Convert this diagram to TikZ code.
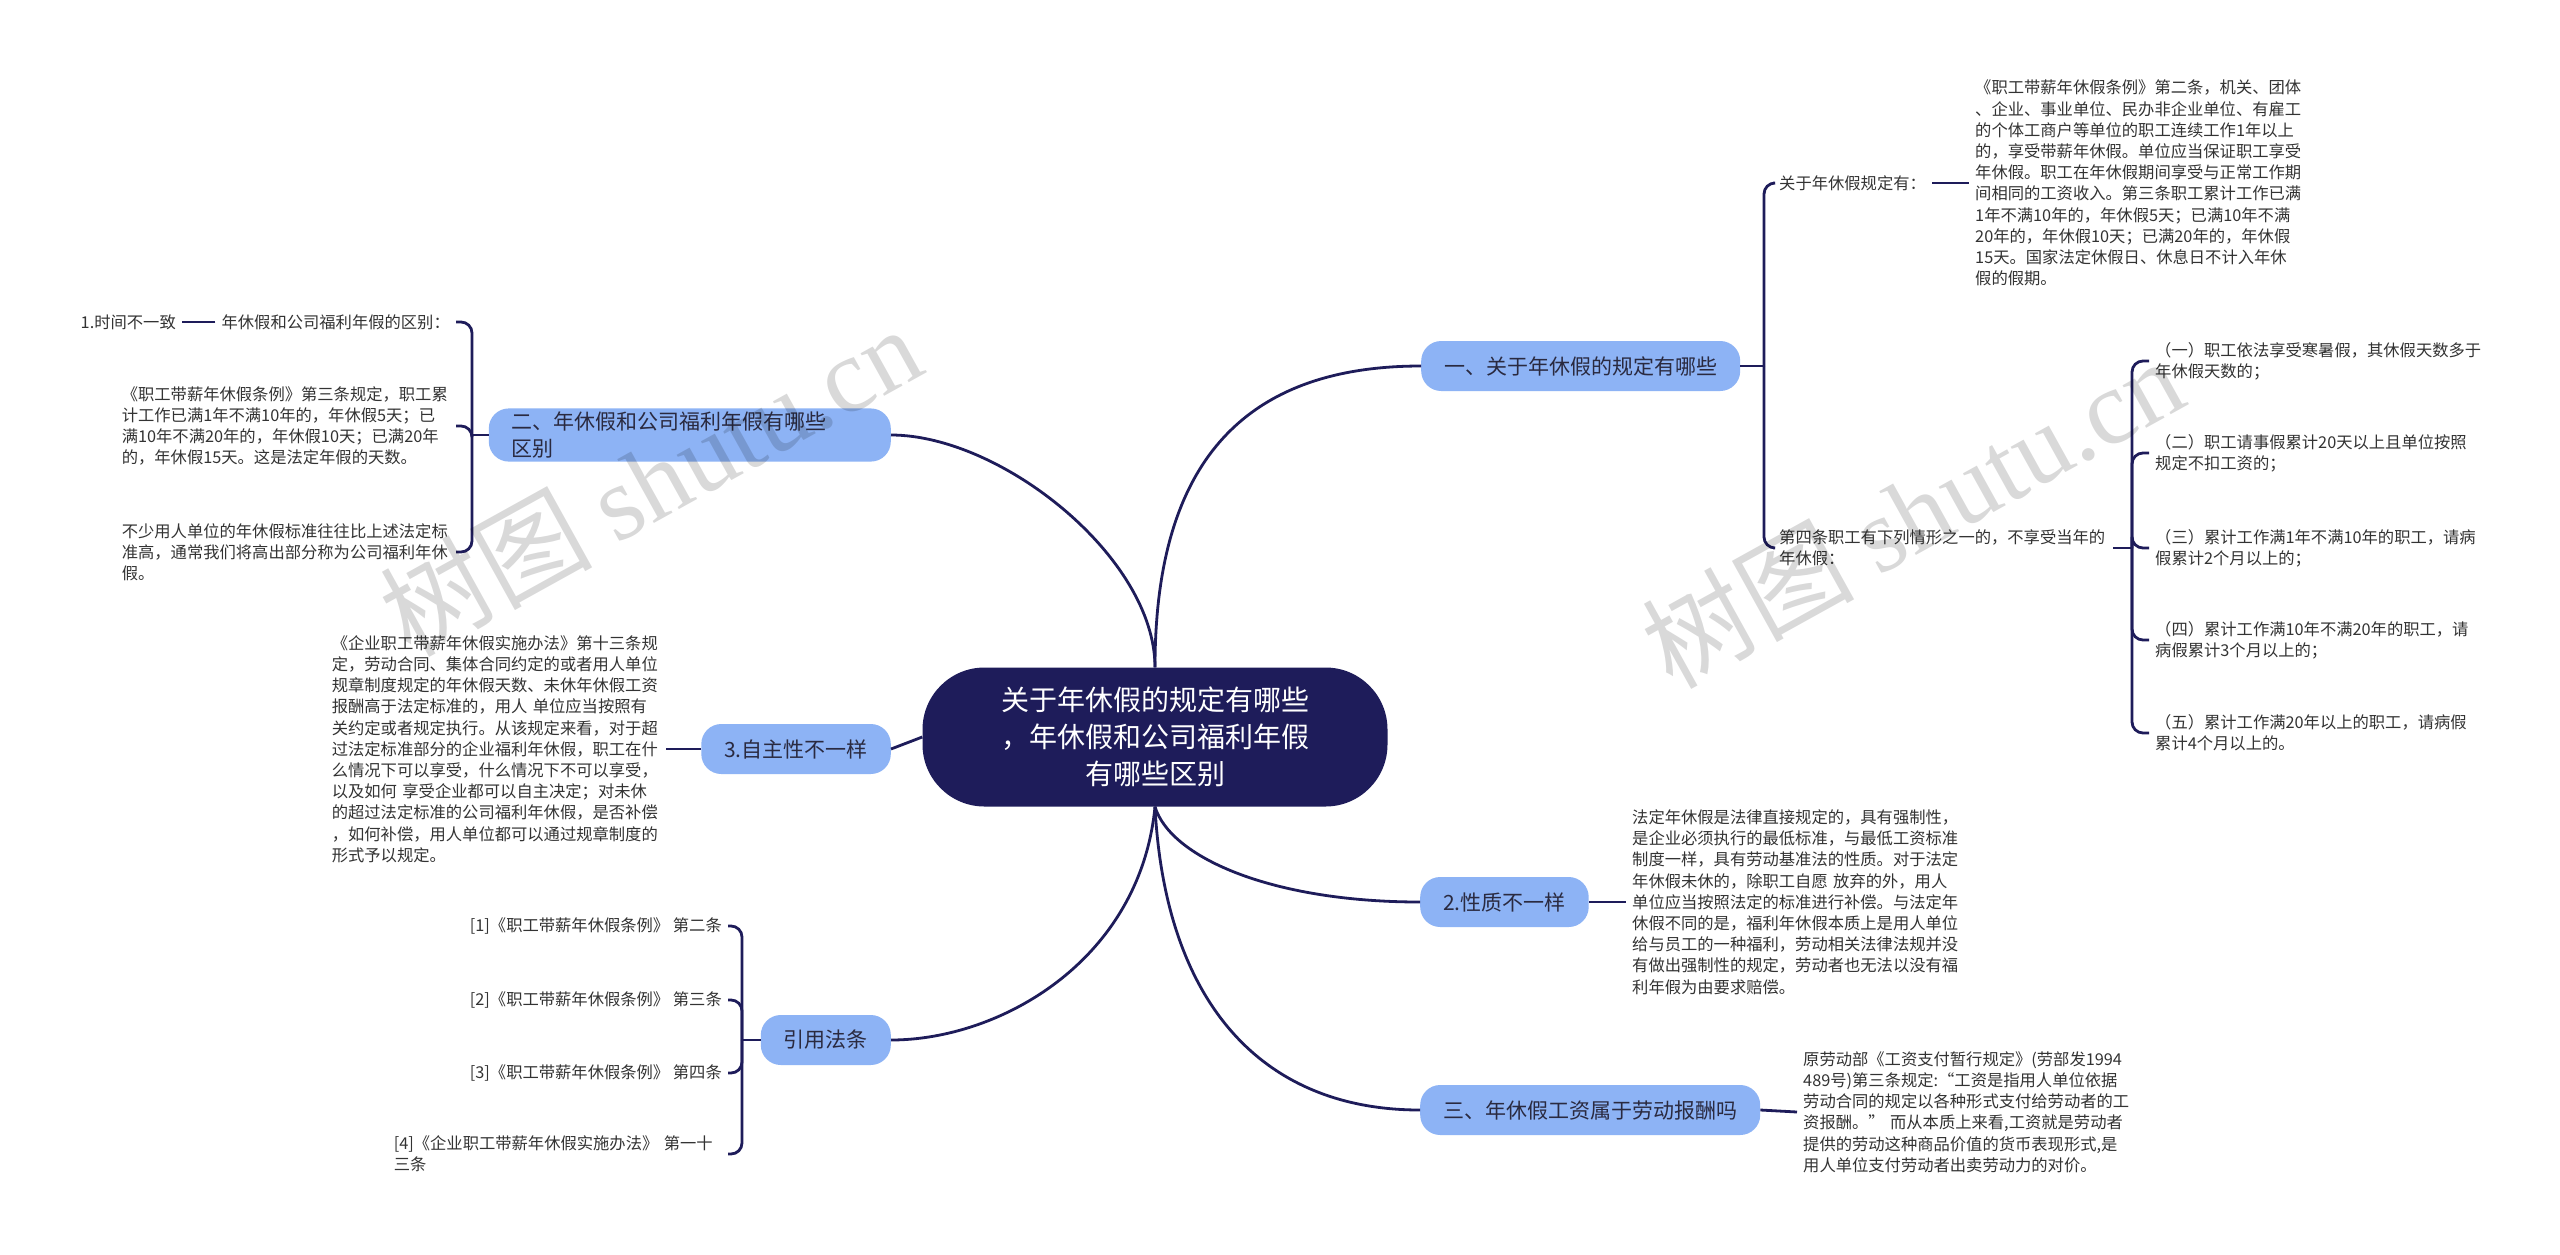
\documentclass[tikz,border=0pt]{standalone}
\usepackage{fontspec}
\usepackage{xcolor}
\usepackage{tikz}
\setmainfont{Noto Sans CJK SC}
\newfontfamily\wmfont{Liberation Serif}
\definecolor{rootcolor}{HTML}{1E1C5A}
\definecolor{branchcolor}{HTML}{8DB3F5}
\definecolor{branchtext}{HTML}{2A2A40}
\definecolor{textgray}{HTML}{333333}

\begin{document}
\begin{tikzpicture}[x=1pt, y=-1pt,
    root/.style={fill=rootcolor, text=white, rounded corners=62pt, minimum width=465pt, minimum height=139pt, align=center, font=\fontsize{28}{37}\selectfont},
    branch/.style={fill=branchcolor, text=branchtext, rounded corners=20pt, minimum height=50pt, inner xsep=23pt, font=\fontsize{21}{27}\selectfont},
    leaf/.style={text=textgray, inner xsep=6pt, inner ysep=2pt, align=left, font=\fontsize{16.3}{21.2}\selectfont},
    para/.style={leaf, text width=328pt},
    link/.style={draw=rootcolor, line width=2.8pt},
    brace/.style={link, rounded corners=11pt},
    watermark/.style={rotate=29, text=black, opacity=0.15, font=\fontsize{106}{106}\selectfont}]
    \fill[white] (0,0) rectangle (2560,1254);
    \useasboundingbox (0,0) rectangle (2560,1254);

    \node[root] (root) at (1155,737) {关于年休假的规定有哪些\\，年休假和公司福利年假\\有哪些区别};

    \node[branch, anchor=west] (b1) at (1421,366) {一、关于年休假的规定有哪些};
    \node[branch, anchor=east, text width=356pt, align=left] (b2) at (891,435) {二、年休假和公司福利年假有哪些\\区别};
    \node[branch, anchor=east] (b3) at (891,749) {3.自主性不一样};
    \node[branch, anchor=west] (b4) at (1420,902) {2.性质不一样};
    \node[branch, anchor=east] (b5) at (891,1040) {引用法条};
    \node[branch, anchor=west] (b6) at (1420,1110) {三、年休假工资属于劳动报酬吗};

    \draw[link] (root.north) .. controls +(0,-190) and +(-190,0) .. (b1.west);
    \draw[link] (root.north) .. controls +(0,-110) and +(110,0) .. (b2.east);
    \draw[link] (root.west) -- (b3.east);
    \draw[link] (root.south) .. controls +(15,50) and +(-150,0) .. (b4.west);
    \draw[link] (root.south) .. controls +(-15,154) and +(109,0) .. (b5.east);
    \draw[link] (root.south) .. controls +(10,194) and +(-160,0) .. (b6.west);

    \node[leaf, anchor=west] (c1) at (1773,183) {关于年休假规定有：};
    \node[para, anchor=west] (c1a) at (1969,183) {《职工带薪年休假条例》第二条，机关、团体\\、企业、事业单位、民办非企业单位、有雇工\\的个体工商户等单位的职工连续工作1年以上\\的，享受带薪年休假。单位应当保证职工享受\\年休假。职工在年休假期间享受与正常工作期\\间相同的工资收入。第三条职工累计工作已满\\1年不满10年的，年休假5天；已满10年不满\\20年的，年休假10天；已满20年的，年休假\\15天。国家法定休假日、休息日不计入年休\\假的假期。};
    \node[para, anchor=west] (c2) at (1773,548) {第四条职工有下列情形之一的，不享受当年的\\年休假：};
    \node[para, anchor=west] (d1) at (2149,361) {（一）职工依法享受寒暑假，其休假天数多于\\年休假天数的；};
    \node[para, anchor=west] (d2) at (2149,453) {（二）职工请事假累计20天以上且单位按照\\规定不扣工资的；};
    \node[para, anchor=west] (d3) at (2149,548) {（三）累计工作满1年不满10年的职工，请病\\假累计2个月以上的；};
    \node[para, anchor=west] (d4) at (2149,640) {（四）累计工作满10年不满20年的职工，请\\病假累计3个月以上的；};
    \node[para, anchor=west] (d5) at (2149,733) {（五）累计工作满20年以上的职工，请病假\\累计4个月以上的。};
    \coordinate (j1) at (1764,366);
    \coordinate (j2) at (2132,548);
    \draw[link] (b1.east) -- (j1);
    \draw[brace] (j1) |- (c1.west);
    \draw[brace] (j1) |- (c2.west);
    \draw[link] (c1.east) -- (c1a.west);
    \draw[link] (c2.east) -- (j2);
    \foreach \n in {d1,d2,d3,d4,d5}
        \draw[brace] (j2) |- (\n.west);

    \node[leaf, anchor=east] (l1) at (456,322) {年休假和公司福利年假的区别：};
    \node[leaf, anchor=east] (l0) at (182,322) {1.时间不一致};
    \node[para, anchor=east] (l2) at (456,426) {《职工带薪年休假条例》第三条规定，职工累\\计工作已满1年不满10年的，年休假5天；已\\满10年不满20年的，年休假10天；已满20年\\的，年休假15天。这是法定年假的天数。};
    \node[para, anchor=east] (l3) at (456,552) {不少用人单位的年休假标准往往比上述法定标\\准高，通常我们将高出部分称为公司福利年休\\假。};
    \coordinate (j3) at (472,435);
    \draw[link] (b2.west) -- (j3);
    \foreach \n in {l1,l2,l3}
        \draw[brace] (j3) |- (\n.east);
    \draw[link] (l1.west) -- (l0.east);

    \node[para, anchor=east] (p3) at (666,749) {《企业职工带薪年休假实施办法》第十三条规\\定，劳动合同、集体合同约定的或者用人单位\\规章制度规定的年休假天数、未休年休假工资\\报酬高于法定标准的，用人 单位应当按照有\\关约定或者规定执行。从该规定来看，对于超\\过法定标准部分的企业福利年休假，职工在什\\么情况下可以享受，什么情况下不可以享受，\\以及如何 享受企业都可以自主决定；对未休\\的超过法定标准的公司福利年休假，是否补偿\\，如何补偿，用人单位都可以通过规章制度的\\形式予以规定。};
    \draw[link] (b3.west) -- (p3.east);

    \node[para, anchor=west] (e1) at (1626,902) {法定年休假是法律直接规定的，具有强制性，\\是企业必须执行的最低标准，与最低工资标准\\制度一样，具有劳动基准法的性质。对于法定\\年休假未休的，除职工自愿 放弃的外，用人\\单位应当按照法定的标准进行补偿。与法定年\\休假不同的是，福利年休假本质上是用人单位\\给与员工的一种福利，劳动相关法律法规并没\\有做出强制性的规定，劳动者也无法以没有福\\利年假为由要求赔偿。};
    \draw[link] (b4.east) -- (e1.west);

    \node[leaf, anchor=east] (r1) at (728,926) {[1]《职工带薪年休假条例》 第二条};
    \node[leaf, anchor=east] (r2) at (728,1000) {[2]《职工带薪年休假条例》 第三条};
    \node[leaf, anchor=east] (r3) at (728,1073) {[3]《职工带薪年休假条例》 第四条};
    \node[para, anchor=east] (r4) at (728,1154) {[4]《企业职工带薪年休假实施办法》 第一十\\三条};
    \coordinate (j4) at (742,1040);
    \draw[link] (b5.west) -- (j4);
    \foreach \n in {r1,r2,r3,r4}
        \draw[brace] (j4) |- (\n.east);

    \node[para, anchor=west] (f1) at (1797,1112) {原劳动部《工资支付暂行规定》(劳部发1994\\489号)第三条规定:“工资是指用人单位依据\\劳动合同的规定以各种形式支付给劳动者的工\\资报酬。” 而从本质上来看,工资就是劳动者\\提供的劳动这种商品价值的货币表现形式,是\\用人单位支付劳动者出卖劳动力的对价。};
    \draw[link] (b6.east) -- (f1.west);

    \node[watermark] (wm1) at (650,480) {树图 {\wmfont shutu.cn}};
    \node[watermark] (wm2) at (1912,512) {树图 {\wmfont shutu.cn}};
\end{tikzpicture}
\end{document}
